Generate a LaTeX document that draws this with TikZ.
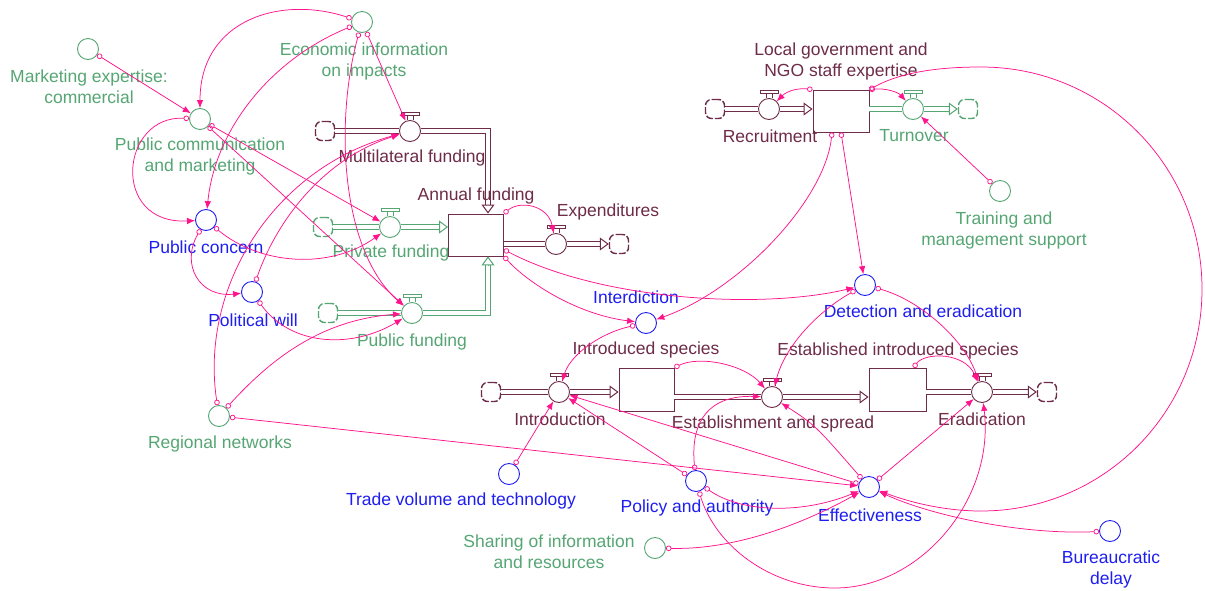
\documentclass[tikz,border=0pt]{standalone}
\usepackage{fontspec}
\setmainfont{Liberation Sans}
\usetikzlibrary{arrows.meta,calc}
\definecolor{mar}{RGB}{110,44,72}
\definecolor{grn}{RGB}{86,166,116}
\definecolor{blu}{RGB}{30,30,240}
\definecolor{pnk}{RGB}{255,20,140}
\newcommand\lblfont{\fontsize{17.5}{21}\selectfont}
\newcommand\valvetop[2]{%
  \draw[draw=#2, line width=0.9pt]
    ($(#1.north)+(-9,-7.5)$) rectangle ($(#1.north)+(9,-5)$)
    ($(#1.north)+(-3,-5)$) -- ($(#1.north)+(-3,0)$)
    ($(#1.north)+(3,-5)$) -- ($(#1.north)+(3,0)$);}
\tikzset{
  aux/.style={circle, draw=#1, line width=0.9pt, minimum size=21pt, inner sep=0pt},
  valve/.style={circle, draw=#1, line width=0.9pt, minimum size=21pt, inner sep=0pt, fill=white},
  stock/.style={rectangle, draw=mar, line width=0.9pt, minimum width=#1, minimum height=42pt, inner sep=0pt},
  cloud/.style={rectangle, rounded corners=6pt, draw=#1, line width=1.4pt, minimum size=19pt, inner sep=0pt, dash pattern=on 7pt off 2pt, fill=white},
  lbl/.style={text=#1, font=\lblfont, align=center, inner sep=0pt},
  link/.style={draw=pnk, line width=0.75pt, arrows={Circle[open,length=5.5pt,width=5.5pt]-Latex[length=8pt,width=6.5pt]}},
  pipe/.style={draw=#1, double=white, double distance=3.2pt, line width=1pt},
  ptip/.style={draw=#1, line width=1pt, arrows={-Triangle[length=9pt,width=13pt,fill=white]}},
}
\begin{document}
\begin{tikzpicture}[x=1pt,y=-1pt]
\useasboundingbox (0,0) rectangle (1205,590);
\fill[white] (0,0) rectangle (1205,590);

% ---------- auxiliaries ----------
\node[aux=grn] (mkt) at (88,49) {};
\node[aux=grn] (ei) at (362,22) {};
\node[aux=grn] (pcm) at (200,119) {};
\node[aux=blu] (pcn) at (206,220) {};
\node[aux=blu] (pw) at (252,292) {};
\node[aux=grn] (rn) at (219,416) {};
\node[aux=blu] (int) at (646,323) {};
\node[aux=blu] (de) at (865,285) {};
\node[aux=grn] (trn) at (1000,191) {};
\node[aux=blu] (tvt) at (509,474) {};
\node[aux=blu] (pa) at (696,481) {};
\node[aux=blu] (eff) at (869,487) {};
\node[aux=blu] (bur) at (1110,531) {};
\node[aux=grn] (share) at (655,548) {};

% ---------- stocks ----------
\node[stock=55pt] (af) at (476,235) {};
\node[stock=56pt] (lg) at (841,111) {};
\node[stock=55pt, minimum height=43pt] (is) at (646.5,389.5) {};
\node[stock=57pt, minimum height=43pt] (es) at (897.5,389.5) {};

% ---------- valves ----------
\node[valve=mar] (mlv) at (410,131) {};
\node[valve=grn] (pfv) at (390,227) {};
\node[valve=grn] (pbv) at (412,313) {};
\node[valve=mar] (exv) at (556,244) {};
\node[valve=mar] (rcv) at (769,109) {};
\node[valve=grn] (tov) at (913,109) {};
\node[valve=mar] (inv) at (559,392) {};
\node[valve=mar] (esv) at (772,397) {};
\node[valve=mar] (erv) at (982,392) {};
\valvetop{mlv}{mar}
\valvetop{pfv}{grn}
\valvetop{pbv}{grn}
\valvetop{exv}{mar}
\valvetop{rcv}{mar}
\valvetop{tov}{grn}
\valvetop{inv}{mar}
\valvetop{esv}{mar}
\valvetop{erv}{mar}

% ---------- clouds ----------
\node[cloud=mar] (mlc) at (325,131) {};
\node[cloud=grn] (pfc) at (323,227) {};
\node[cloud=grn] (pbc) at (328,313) {};
\node[cloud=mar] (exc) at (619,244) {};
\node[cloud=mar] (rcc) at (715,109) {};
\node[cloud=grn] (toc) at (968,109) {};
\node[cloud=mar] (inc) at (491,392) {};
\node[cloud=mar] (erc) at (1047,392) {};

% ---------- pipes ----------
\draw[pipe=mar] (mlc) -- (mlv);
\draw[pipe=mar, shorten >=9pt] (mlv) -| ($(af.north)+(12,0)$);
\draw[ptip=mar] ($(af.north)+(12,-9)$) -- ($(af.north)+(12,0)$);

\draw[pipe=grn] (pfc) -- (pfv);
\draw[pipe=grn, shorten >=9pt] (pfv) -- (pfv -| af.west);
\draw[ptip=grn] ($(pfv -| af.west)+(-9,0)$) -- (pfv -| af.west);

\draw[pipe=grn] (pbc) -- (pbv);
\draw[pipe=grn, shorten >=9pt] (pbv) -| ($(af.south)+(12,0)$);
\draw[ptip=grn] ($(af.south)+(12,9)$) -- ($(af.south)+(12,0)$);

\draw[pipe=mar] (af.east |- exv) -- (exv);
\draw[pipe=mar, shorten >=9pt] (exv) -- (exc);
\draw[ptip=mar] ($(exc.west)+(-9,0)$) -- (exc.west);

\draw[pipe=mar] (rcc) -- (rcv);
\draw[pipe=mar, shorten >=9pt] (rcv) -- (rcv -| lg.west);
\draw[ptip=mar] ($(rcv -| lg.west)+(-9,0)$) -- (rcv -| lg.west);

\draw[pipe=grn] (lg.east |- tov) -- (tov);
\draw[pipe=grn, shorten >=9pt] (tov) -- (toc);
\draw[ptip=grn] ($(toc.west)+(-9,0)$) -- (toc.west);

\draw[pipe=mar] (inc) -- (inv);
\draw[pipe=mar, shorten >=9pt] (inv) -- (inv -| is.west);
\draw[ptip=mar] ($(inv -| is.west)+(-9,0)$) -- (inv -| is.west);

\draw[pipe=mar] (is.east |- esv) -- (esv);
\draw[pipe=mar, shorten >=9pt] (esv) -- (esv -| es.west);
\draw[ptip=mar] ($(esv -| es.west)+(-9,0)$) -- (esv -| es.west);

\draw[pipe=mar] (es.east |- erv) -- (erv);
\draw[pipe=mar, shorten >=9pt] (erv) -- (erc);
\draw[ptip=mar] ($(erc.west)+(-9,0)$) -- (erc.west);

% ---------- labels ----------
\node[lbl=grn] (Lmkt) at (89,87) {Marketing expertise:\\commercial};
\node[lbl=grn] (Lei) at (364,61) {Economic information\\on impacts};
\node[lbl=grn] (Lpcm) at (200,156) {Public communication\\and marketing};
\node[lbl=blu] (Lpcn) at (206,247) {Public concern};
\node[lbl=blu] (Lpw) at (253,320) {Political will};
\node[lbl=grn] (Lrn) at (220,444) {Regional networks};
\node[lbl=mar] (Lmlv) at (412,158) {Multilateral funding};
\node[lbl=mar] (Laf) at (476,196) {Annual funding};
\node[lbl=grn] (Lpfv) at (391,253) {Private funding};
\node[lbl=mar] (Lexv) at (608,212) {Expenditures};
\node[lbl=grn] (Lpbv) at (412,342) {Public funding};
\node[lbl=mar] (Llg) at (841,61) {Local government and\\NGO staff expertise};
\node[lbl=mar] (Lrcv) at (770,136) {Recruitment};
\node[lbl=grn] (Ltov) at (914,136) {Turnover};
\node[lbl=grn] (Ltrn) at (1004,230) {Training and\\management support};
\node[lbl=blu] (Lint) at (636,297) {Interdiction};
\node[lbl=blu] (Lde) at (923,311) {Detection and eradication};
\node[lbl=mar] (Lis) at (646,350) {Introduced species};
\node[lbl=mar] (Les) at (898,351) {Established introduced species};
\node[lbl=mar] (Linv) at (560,419) {Introduction};
\node[lbl=mar] (Lesv) at (773,424) {Establishment and spread};
\node[lbl=mar] (Lerv) at (982,419) {Eradication};
\node[lbl=blu] (Ltvt) at (461,501) {Trade volume and technology};
\node[lbl=blu] (Lpa) at (697,508) {Policy and authority};
\node[lbl=blu] (Leff) at (870,515) {Effectiveness};
\node[lbl=grn] (Lshare) at (549,552) {Sharing of information\\and resources};
\node[lbl=blu] (Lbur) at (1111,569) {Bureaucratic\\delay};

% ---------- information links ----------
\draw[link] (mkt) -- (pcm);
\draw[link] (ei) .. controls (280,-5) and (200,20) .. (pcm);
\draw[link] (ei) .. controls (270,60) and (215,130) .. (pcn);
\draw[link] (ei) -- (mlv);
\draw[link] (ei) .. controls (335,120) and (340,250) .. (pbv);
\draw[link] (pcm) .. controls (120,115) and (110,225) .. (pcn);
\draw[link] (pcm) -- (pfv);
\draw[link] (pcm) -- (pbv);
\draw[link] (pcn) .. controls (180,265) and (200,298) .. (pw);
\draw[link] (pcn) .. controls (260,265) and (330,270) .. (pfv);
\draw[link] (pw) .. controls (275,225) and (320,160) .. (mlv);
\draw[link] (pw) .. controls (290,345) and (350,350) .. (pbv);
\draw[link] (rn) .. controls (200,290) and (270,170) .. (mlv);
\draw[link] (rn) .. controls (270,360) and (320,320) .. (pbv);
\draw[link] (rn) -- (eff);
\draw[link] (af.north east) .. controls (520,200) and (548,205) .. (exv);
\draw[link] (af.south east) .. controls (530,285) and (580,315) .. (int);
\draw[link] (af) .. controls (600,300) and (760,310) .. (de);
\draw[link] (lg.north west) .. controls (800,88) and (788,90) .. (rcv);
\draw[link] (lg.north east) .. controls (885,88) and (898,92) .. (tov);
\draw[link] (lg.north east) .. controls (903,71) and (943,67) .. (981,67)
   .. controls (1104,67) and (1202,166) .. (1202,289)
   .. controls (1202,412) and (1104,511) .. (981,511)
   .. controls (946,511) and (912,503) .. (eff);
\draw[link] ($(lg.south)+(-9,0)$) .. controls (825,200) and (740,290) .. (int);
\draw[link] (lg.south) -- (de);
\draw[link] (trn) -- (tov);
\draw[link] (de) .. controls (820,310) and (785,345) .. (esv);
\draw[link] (de) .. controls (920,300) and (965,340) .. (erv);
\draw[link] (int) .. controls (600,333) and (570,355) .. (inv);
\draw[link] (is.north east) .. controls (700,355) and (745,365) .. (esv);
\draw[link] ($(es.north)+(16,0)$) .. controls (925,352) and (965,352) .. (erv);
\draw[link] (tvt) -- (inv);
\draw[link] (pa) -- (inv);
\draw[link] (eff) -- (inv);
\draw[link] (pa) .. controls (690,420) and (710,395) .. (esv);
\draw[link] (pa) .. controls (740,512) and (800,515) .. (eff);
\draw[link] (pa) .. controls (715,545) and (770,588) .. (835,588)
   .. controls (920,588) and (995,500) .. (erv);
\draw[link] (share) .. controls (740,550) and (810,520) .. (eff);
\draw[link] (eff) .. controls (815,425) .. (esv);
\draw[link] (eff) -- (erv);
\draw[link] (bur) .. controls (1020,535) and (930,515) .. (eff);
\end{tikzpicture}
\end{document}
